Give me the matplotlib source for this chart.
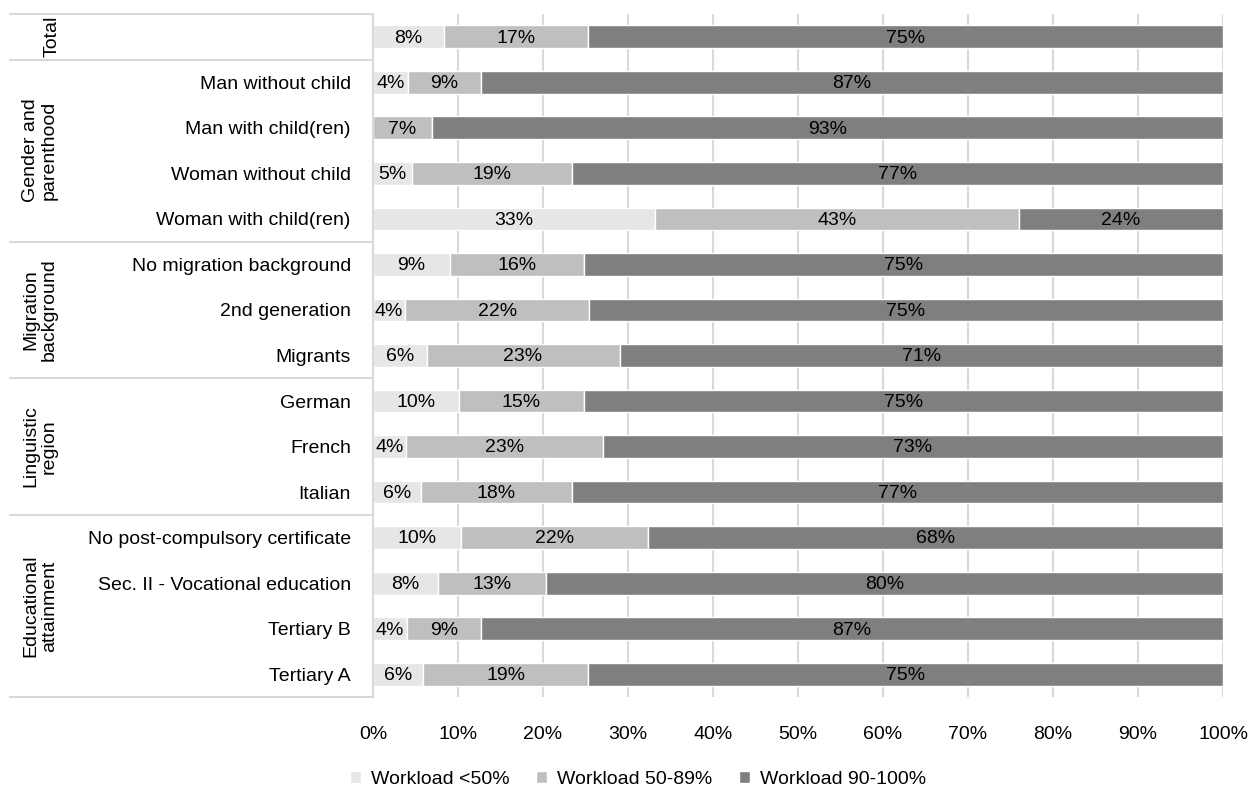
import numpy as np
import matplotlib.pyplot as plt
from matplotlib.transforms import blended_transform_factory

plt.rcParams["font.family"] = ["Liberation Sans", "DejaVu Sans"]

categories = ["", "Man without child", "Man with child(ren)", "Woman without child",
              "Woman with child(ren)", "No migration background", "2nd generation",
              "Migrants", "German", "French", "Italian",
              "No post-compulsory certificate", "Sec. II - Vocational education",
              "Tertiary B", "Tertiary A"]
groups = ["Total", "Gender and\nparenthood", "Migration\nbackground",
          "Linguistic\nregion", "Educational\nattainment"]
group_sizes = [1, 4, 3, 3, 4]

low = [8.4, 4.1, 0.0, 4.6, 33.2, 9.1, 3.8, 6.3, 10.1, 3.9, 5.6, 10.4, 7.6, 4.0, 5.9]
mid = [16.9, 8.6, 6.9, 18.8, 42.8, 15.7, 21.6, 22.7, 14.7, 23.1, 17.8, 21.9, 12.8, 8.7, 19.4]
high = [74.7, 87.3, 93.1, 76.6, 24.0, 75.2, 74.6, 71.0, 75.2, 73.0, 76.6, 67.7, 79.6, 87.3, 74.7]

series = ["Workload <50%", "Workload 50-89%", "Workload 90-100%"]
colors = ["#e6e6e6", "#bfbfbf", "#7f7f7f"]
fs = 14

fig = plt.figure(figsize=(12.51, 7.89), dpi=100)
ax = fig.add_axes([373 / 1251, 1 - 697 / 789, 850 / 1251, 683 / 789])

y = np.arange(len(categories))
left = np.zeros(len(categories))
for vals, col, lab in zip([low, mid, high], colors, series):
    vals = np.array(vals)
    bars = ax.barh(y, vals, left=left, height=0.5, color=col, edgecolor="white",
                   linewidth=1, label=lab, zorder=2)
    for b, v in zip(bars, vals):
        if v >= 1:
            ax.text(b.get_x() + b.get_width() / 2, b.get_y() + b.get_height() / 2 + 0.03,
                    f"{v:.0f}%", ha="center", va="center", fontsize=fs, color="black", zorder=3)
    left += vals

ax.set_xlim(0, 100)
ax.set_ylim(len(categories) - 0.5, -0.5)
ax.set_xticks(np.arange(0, 101, 10))
ax.set_xticklabels([f"{t}%" for t in range(0, 101, 10)], fontsize=fs)
ax.set_yticks(y)
ax.set_yticklabels(categories, fontsize=fs)
ax.tick_params(axis="both", length=0)
ax.tick_params(axis="y", pad=16)
ax.tick_params(axis="x", pad=21)
ax.grid(axis="x", color="#d9d9d9", linewidth=1.5, zorder=0)
for s in ["top", "right", "bottom"]:
    ax.spines[s].set_visible(False)
ax.spines["left"].set_color("#d9d9d9")
ax.spines["left"].set_linewidth(1.5)

# left table of group labels
trans = ax.get_yaxis_transform()
x_line0 = (10 - 373) / 850
bounds = [-0.5]
pos = -0.5
for n in group_sizes:
    pos += n
    bounds.append(pos)
for b in bounds:
    ax.plot([x_line0, 0], [b, b], transform=trans, color="#d9d9d9", linewidth=1.5,
            clip_on=False, zorder=1)

tr = blended_transform_factory(fig.transFigure, ax.transData)
for i, g in enumerate(groups):
    c = (bounds[i] + bounds[i + 1]) / 2
    xg = 52 / 1251 if "\n" not in g else 40 / 1251
    fig.text(xg, c, g, transform=tr, rotation=90, ha="center", va="center",
             fontsize=fs, linespacing=1.15)

fig.legend(loc="lower center", bbox_to_anchor=(0.51, -0.008), ncol=3, frameon=False,
           fontsize=fs, handlelength=0.55, handleheight=0.55, columnspacing=1.4,
           handletextpad=0.5, borderaxespad=0.0)

fig.savefig("out.png", dpi=100)
